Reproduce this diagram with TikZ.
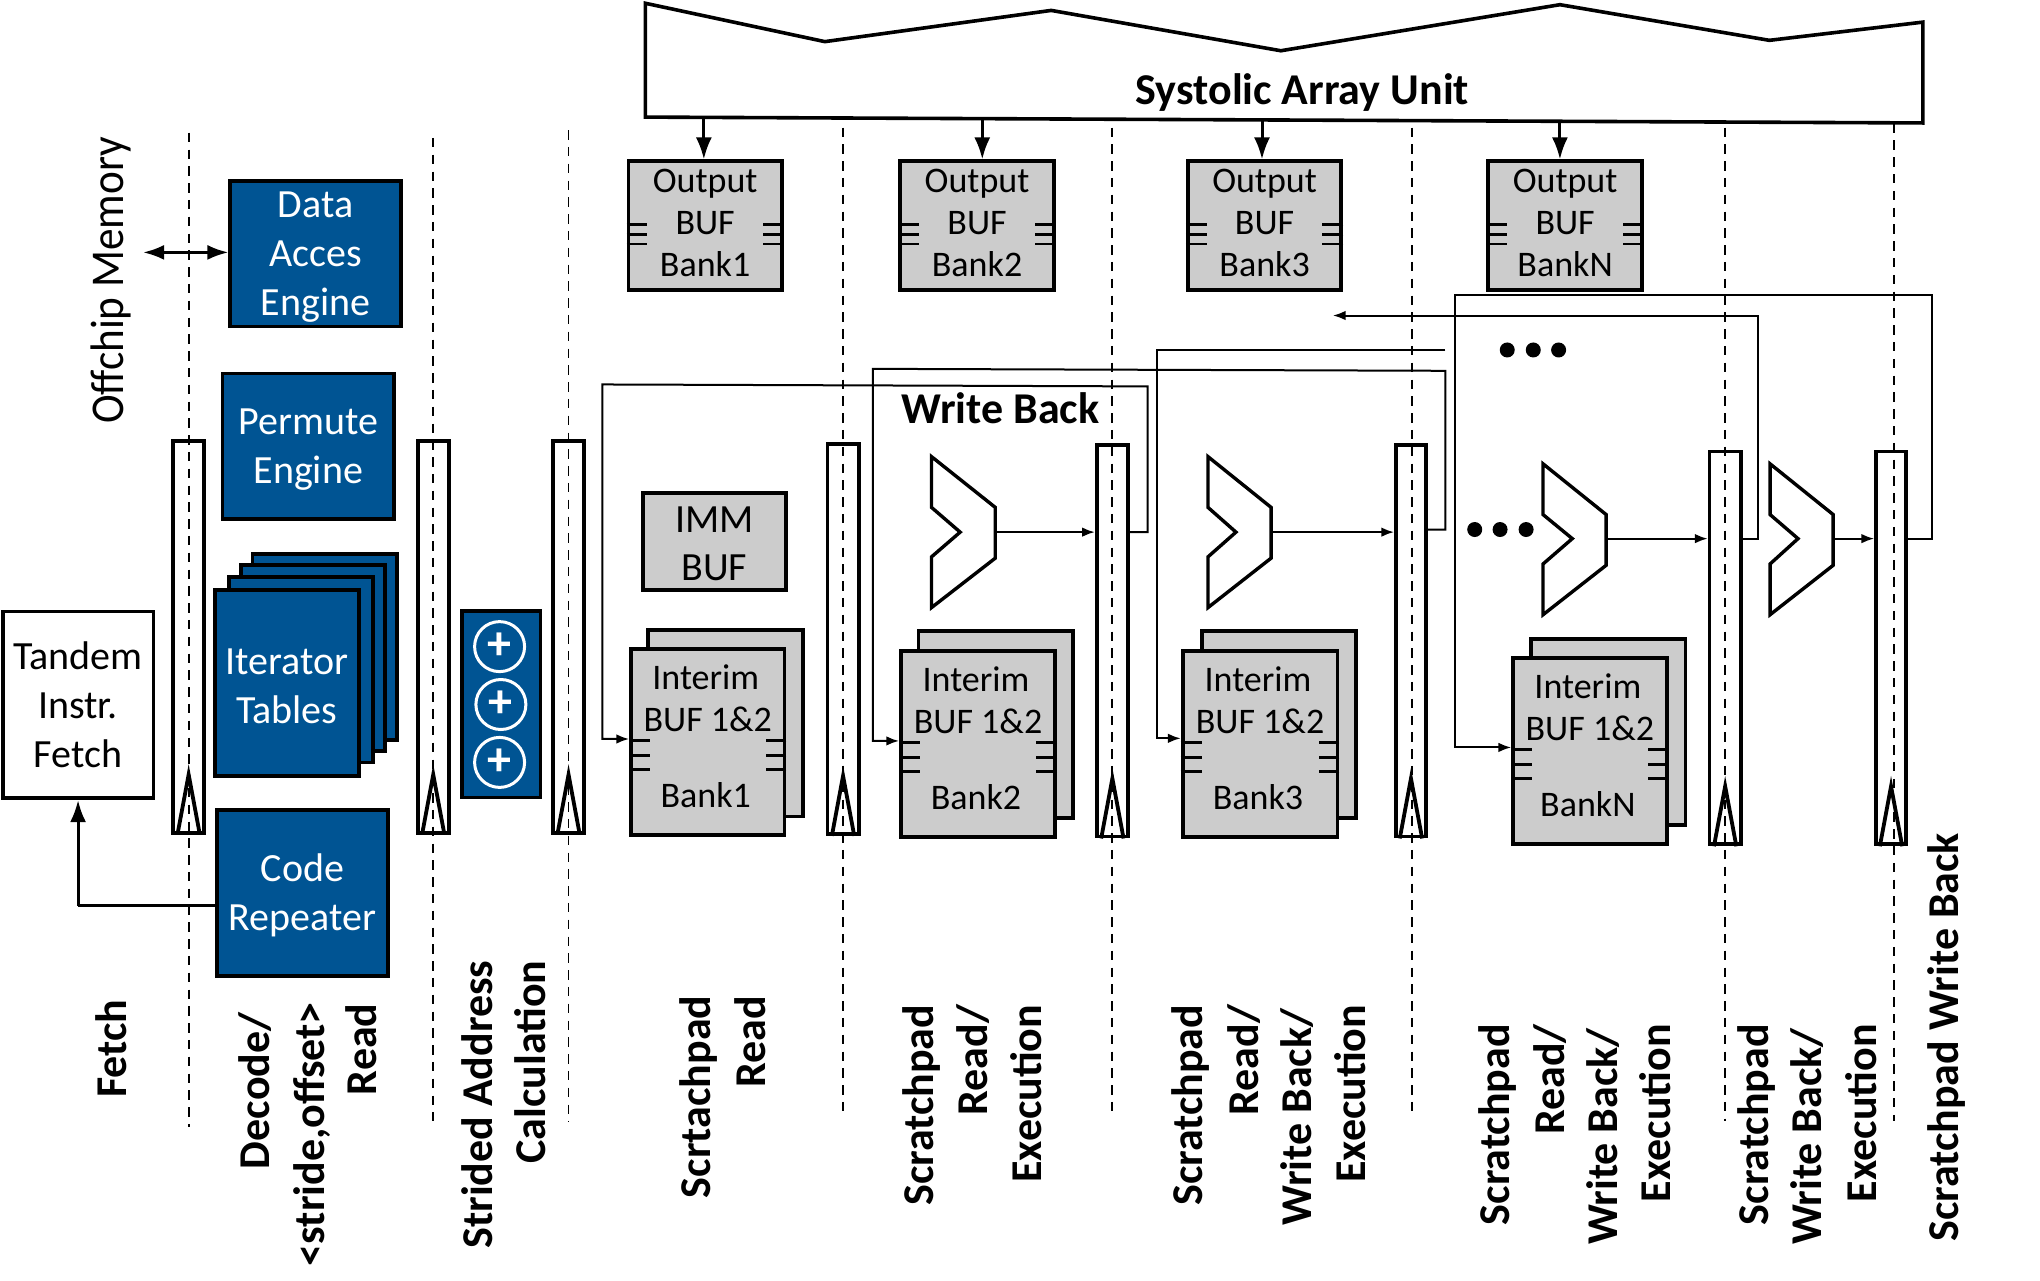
\documentclass[tikz,border=0pt]{standalone}
\usepackage{fontspec}
\setmainfont{Carlito}
\usetikzlibrary{arrows.meta}
\definecolor{blk}{RGB}{0,84,147}
\definecolor{gry}{RGB}{204,204,204}
\tikzset{
  box/.style={draw=black,line width=1.9pt,inner sep=0pt,align=center},
  blue/.style={box,fill=blk,text=white,font=\fontsize{20}{24.4}\selectfont},
  whitebox/.style={box,fill=white,font=\fontsize{20}{24.4}\selectfont},
  graytall/.style={box,fill=gry,font=\fontsize{18}{21}\selectfont},
  grayimm/.style={box,fill=gry,font=\fontsize{20}{24}\selectfont},
  latch/.style={box,fill=white},
  stage/.style={black,line width=0.9pt,dash pattern=on 4.7pt off 3.7pt},
  wire/.style={black,line width=1pt,line join=miter},
  wirea/.style={wire,-{Latex[length=6.4pt,width=4.8pt]}},
  biga/.style={black,line width=1.5pt,-{Latex[length=11pt,width=8pt]}},
  doublea/.style={black,line width=1.4pt,{Latex[length=10.5pt,width=7.5pt]}-{Latex[length=10.5pt,width=7.5pt]}},
  pin/.style={black,line width=1.3pt},
  muxshape/.style={draw=black,fill=white,line width=1.7pt,line join=miter},
  adder/.style={circle,draw=white,line width=1.5pt,minimum size=25pt,inner sep=0pt,text=white,font=\fontsize{24}{24}\bfseries\selectfont},
  slabel/.style={rotate=90,anchor=mid east,inner sep=0pt,font=\fontsize{22}{24}\bfseries\selectfont},
  head/.style={inner sep=0pt,font=\fontsize{22}{24}\bfseries\selectfont},
  dot/.style={circle,fill=black,minimum size=7.5pt,inner sep=0pt}
}
\newcommand{\Bx}[7]{%
  \pgfmathsetmacro\bw{(#5-#3)*0.6505}%
  \pgfmathsetmacro\bh{(#6-#4)*0.6505}%
  \node[#1,minimum width=\bw pt,minimum height=\bh pt] (#2) at ({(#3+#5)/2},{(#4+#6)/2}) {#7};%
}
\newcommand{\Latch}[5]{%
  \Bx{latch}{#1}{#2}{#3}{#4}{#5}{}%
  \draw[box,fill=none] ([xshift=-5.6pt]#1.south) -- ([yshift=30pt]#1.south) -- ([xshift=5.6pt]#1.south);%
}
\newcommand{\Pins}[4]{%
  \foreach \d in {#2,#3,#4}{%
    \draw[pin] ([yshift=-\d*0.6505 pt]#1.north west) -- ++(16,0);
    \draw[pin] ([yshift=-\d*0.6505 pt]#1.north east) -- ++(-16,0);
  }%
}
\newcommand{\Mux}[6]{%
  \draw[muxshape] (#2,#5) -- (#4,{#5+39}) -- (#4,{#5+78}) -- (#2,{#5+116}) -- (#2,{#5+77}) -- (#3,#6) -- (#2,{#5+39}) -- cycle;
  \coordinate (#1) at (#4,#6);
}
\newcommand{\Lab}[3]{\node[slabel] at ({#1+7.5},#2) {#3};}
\newcommand{\Otxt}[1]{Output\\BUF\\#1\rule[-3.2pt]{0pt}{0pt}}
\newcommand{\Itxt}[1]{Interim\hspace*{2pt}\\BUF 1\&2\hspace*{2pt}\\[17pt]#1\hspace*{2pt}\rule[-6pt]{0pt}{0pt}}
\newcommand{\Dn}{\rule{0pt}{16.4pt}}
\begin{document}
\begin{tikzpicture}[x=0.6505pt,y=-0.6505pt]
\useasboundingbox (0,0) rectangle (1568,984);
\fill[white] (0,0) rectangle (1568,984);

% Systolic array
\draw[line width=1.8pt,line join=miter,fill=white] (496,2.5) -- (634,32) -- (808,8) -- (984.5,39) -- (1199,3.6) -- (1360,31) -- (1478,17) -- (1478,94.5) -- (496,90) -- cycle;
\node[head] (sys) at (1001,71) {Systolic Array Unit};

% Latches
\Latch{l1}{133}{339}{157}{640}
\Latch{l2}{321}{339}{345}{640}
\Latch{l3}{425}{339}{449}{640}
\Latch{l4}{636}{341}{660}{641}
\Latch{l5}{843}{342}{867}{643}
\Latch{l6}{1073}{342}{1096}{643}
\Latch{l7}{1314}{347}{1338}{649}
\Latch{l8}{1442}{347}{1465}{649}

% Stage separators
\foreach \x/\a/\b in {145/102/866,333/106/862,437/100/862,648/98/857,855/98/855,1085/98/857,1326/98/862,1456/95/862}
  \draw[stage] (\x,\a) -- (\x,\b);

% Left blocks
\node[rotate=90,inner sep=0pt,font=\fontsize{23.5}{24}\selectfont] (off) at (85,215.5) {\scalebox{0.92}[1]{Offchip Memory}};
\Bx{blue}{data}{177}{139}{308}{251}{\Dn Data\\Acces\\Engine}
\Bx{blue}{perm}{171}{287}{303}{399}{\Dn Permute\\Engine}
\Bx{blue}{it4}{194}{426}{305}{568.5}{}
\Bx{blue}{it3}{185}{434.5}{296}{577}{}
\Bx{blue}{it2}{176}{443.5}{287}{586}{}
\Bx{blue}{it1}{165}{453.5}{276}{596.5}{\Dn Iterator\\Tables}
\Bx{blue}{code}{166.5}{622.5}{298.5}{750}{\Dn Code\\Repeater}
\Bx{whitebox}{tandem}{2}{470}{118}{613.5}{Tandem\\Instr.\\Fetch}
\Bx{blue}{addbox}{355}{469.5}{415.5}{613}{}
\node[adder] (a1) at (384,497) {+};
\node[adder] (a2) at (385,541.5) {+};
\node[adder] (a3) at (384,586) {+};

\coordinate (offr) at (110,194);
\draw[doublea] (offr) -- (offr -| data.west);
\coordinate (crx) at (60,696);
\draw[black,line width=1.5pt] (code.west |- crx) -- (crx);
\draw[biga] (crx) -- (crx |- tandem.south);

% Output buffers
\Bx{graytall}{ob1}{483}{124}{601}{223}{\Otxt{Bank1}}
\Bx{graytall}{ob2}{692}{124}{810}{223}{\Otxt{Bank2}}
\Bx{graytall}{ob3}{913}{124}{1031}{223}{\Otxt{Bank3}}
\Bx{graytall}{ob4}{1144}{124}{1262}{223}{\Otxt{BankN}}
\foreach \n in {ob1,ob2,ob3,ob4} {\Pins{\n}{50}{57.5}{65}}
\coordinate (s1) at (541,91);
\coordinate (s2) at (755,92);
\coordinate (s3) at (970,93);
\coordinate (s4) at (1199,94);
\draw[biga] (s1) -- (s1 |- ob1.north);
\draw[biga] (s2) -- (s2 |- ob2.north);
\draw[biga] (s3) -- (s3 |- ob3.north);
\draw[biga] (s4) -- (s4 |- ob4.north);

% IMM and interim buffers
\Bx{grayimm}{imm}{494}{379}{604}{453.5}{\rule{0pt}{15.2pt}IMM\\BUF}
\Bx{graytall}{ib1}{498}{484}{617}{627.5}{}
\Bx{graytall}{if1}{485}{499}{603}{641.5}{\Itxt{Bank1}}
\Bx{graytall}{ib2}{706}{485}{825}{629}{}
\Bx{graytall}{if2}{692.5}{500.5}{811}{643.5}{\Itxt{Bank2}}
\Bx{graytall}{ib3}{924}{485}{1042}{629}{}
\Bx{graytall}{if3}{909}{500.5}{1028}{643.5}{\Itxt{Bank3}}
\Bx{graytall}{ib4}{1177}{491}{1295.5}{634}{}
\Bx{graytall}{if4}{1163}{506}{1281}{649}{\Itxt{BankN}}
\foreach \n in {if1,if2,if3,if4} {\Pins{\n}{71.5}{83}{94}}

% Muxes
\Mux{m1}{716}{738}{765}{351}{409}
\Mux{m2}{928.5}{950}{977}{351}{409}
\Mux{m3}{1186}{1208.5}{1234.5}{356.5}{414}
\Mux{m4}{1360.5}{1382}{1409}{356.5}{414}
\draw[wirea] (m1) -- (m1 -| l5.west);
\draw[wirea] (m2) -- (m2 -| l6.west);
\draw[wirea] (m3) -- (m3 -| l7.west);
\draw[wirea] (m4) -- (m4 -| l8.west);

% Write-back wires
\coordinate (w1a) at (882,409);
\coordinate (w1b) at (882,297);
\coordinate (w1c) at (463,295.5);
\coordinate (w1d) at (463,568);
\draw[wirea] (w1a -| l5.east) -- (w1a) -- (w1b) -- (w1c) -- (w1d) -- (w1d -| if1.west);
\coordinate (w2a) at (1111,407);
\coordinate (w2b) at (1111,285);
\coordinate (w2c) at (671,283.5);
\coordinate (w2d) at (671,569.5);
\draw[wirea] (w2a -| l6.east) -- (w2a) -- (w2b) -- (w2c) -- (w2d) -- (w2d -| if2.west);
\coordinate (w3a) at (1111,269);
\coordinate (w3b) at (889,269);
\coordinate (w3c) at (889,567.5);
\draw[wirea] (w3a) -- (w3b) -- (w3c) -- (w3c -| if3.west);
\coordinate (w4a) at (1351,414);
\coordinate (w4b) at (1351,242.5);
\coordinate (w4c) at (1024.5,242.5);
\draw[wirea] (w4a -| l7.east) -- (w4a) -- (w4b) -- (w4c);
\coordinate (w5a) at (1485,414);
\coordinate (w5b) at (1485,227);
\coordinate (w5c) at (1118,227);
\coordinate (w5d) at (1118,574.5);
\draw[wirea] (w5a -| l8.east) -- (w5a) -- (w5b) -- (w5c) -- (w5d) -- (w5d -| if4.west);

% Dots
\node[dot] (d1) at (1158.5,269) {};
\node[dot] (d2) at (1178.5,269) {};
\node[dot] (d3) at (1198,269) {};
\node[dot] (d4) at (1133.5,407) {};
\node[dot] (d5) at (1153,407) {};
\node[dot] (d6) at (1173,407) {};

\node[head] (wb) at (769,313.5) {Write Back};

% Stage labels
\Lab{86}{768}{Fetch}
\Lab{196}{778}{Decode/}
\Lab{238}{770}{<stride,offset>}
\Lab{278}{771}{Read}
\Lab{367}{738}{Strided Address}
\Lab{408}{738}{Calculation}
\Lab{535}{765}{Scrtachpad}
\Lab{577}{765}{Read}
\Lab{706}{772}{Scratchpad}
\Lab{748}{772}{Read/}
\Lab{789}{772}{Execution}
\Lab{913}{772}{Scratchpad}
\Lab{956}{772}{Read/}
\Lab{997}{775}{Write Back/}
\Lab{1038}{772}{Execution}
\Lab{1149}{787}{Scratchpad}
\Lab{1191}{787}{Read/}
\Lab{1232}{790}{Write Back/}
\Lab{1273}{787}{Execution}
\Lab{1348}{787}{Scratchpad}
\Lab{1389}{790}{Write Back/}
\Lab{1431}{787}{Execution}
\Lab{1494}{640}{Scratchpad Write Back}
\end{tikzpicture}
\end{document}
